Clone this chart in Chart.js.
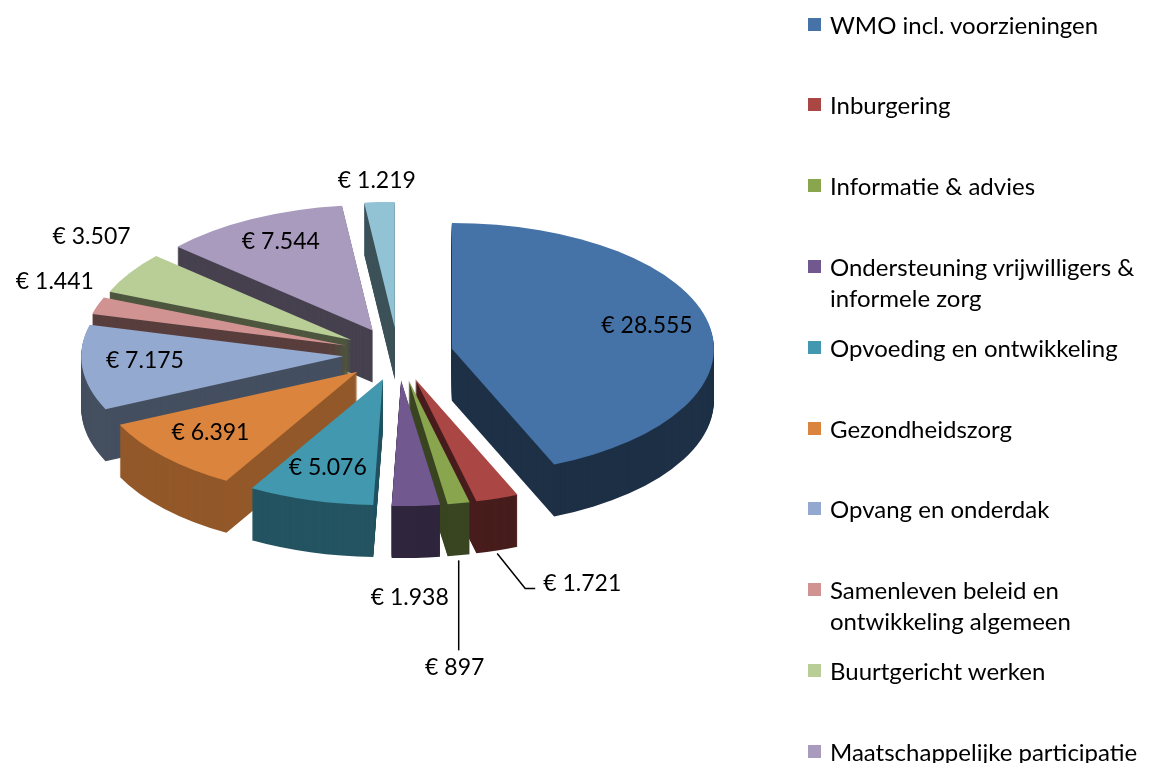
<!DOCTYPE html>
<html>
<head>
<meta charset="utf-8">
<script src="https://cdn.jsdelivr.net/npm/chart.js@4.4.0/dist/chart.umd.min.js"></script>
<style>
    html, body { margin: 0; padding: 0; background: #fff; overflow: hidden; }
    #wrap { position: relative; width: 1153px; height: 763px; overflow: hidden; }
    #chart { position: absolute; left: 0; top: 0; }
    #legend { position: absolute; left: 0; top: 0; width: 1153px; height: 763px; font-family: Lato, sans-serif; font-size: 24px; color: #000; }
    .item { position: absolute; left: 808px; width: 345px; line-height: 31px; }
    .box { position: absolute; left: 0; top: 9px; width: 13px; height: 13px; }
    .txt { margin-left: 22px; }
</style>
</head>
<body>
<div id="wrap">
    <canvas id="chart" width="1153" height="763"></canvas>
    <div id="legend"></div>
</div>
<script>
// Budget per onderdeel (x € 1.000)
const categories = [
    'WMO incl. voorzieningen',
    'Inburgering',
    'Informatie & advies',
    'Ondersteuning vrijwilligers & informele zorg',
    'Opvoeding en ontwikkeling',
    'Gezondheidszorg',
    'Opvang en onderdak',
    'Samenleven beleid en ontwikkeling algemeen',
    'Buurtgericht werken',
    'Maatschappelijke participatie',
    'Overig'
];
const amounts = [28555, 1721, 897, 1938, 5076, 6391, 7175, 1441, 3507, 7544, 1219];
const colors = ['#4572A7', '#AA4643', '#89A54E', '#71588F', '#4198AF', '#DB843D',
                '#93A9CF', '#D19392', '#B9CD96', '#A99BBD', '#92C3D4'];
// where each value label goes: on the slice, outside, or with a leader line
const labelPlacement = ['in', 'elbow', 'down', 'out', 'in', 'in', 'in', 'out', 'out', 'in', 'out'];

const RADIUS = 262;
const EXPLODE = 55;
const DEPTH = 52;
const TILT = 0.48;
const FONT = '23px Lato, sans-serif';

const euro = n => '€ ' + String(n).replace(/\B(?=(\d{3})+(?!\d))/g, '.');

function shade(hex, f) {
    const n = parseInt(hex.slice(1), 16);
    const r = Math.round(((n >> 16) & 255) * f);
    const g = Math.round(((n >> 8) & 255) * f);
    const b = Math.round((n & 255) * f);
    return `rgb(${r},${g},${b})`;
}

const midAngle = arc => (arc.startAngle + arc.endAngle) / 2;

// point on the tilted pie, r px out from the centre along the slice middle
function project(arc, r, lift) {
    const m = midAngle(arc);
    return { x: arc.x + Math.cos(m) * r, y: arc.y + Math.sin(m) * r * TILT + lift };
}

// fake 3D: squash the pie and stack darker copies under each slice
const pie3d = {
    id: 'pie3d',
    beforeDatasetsDraw(chart) {
        const ctx = chart.ctx;
        const arcs = chart.getDatasetMeta(0).data;
        const order = arcs.map((a, i) => i)
            .sort((a, b) => Math.sin(midAngle(arcs[a])) - Math.sin(midAngle(arcs[b])));

        for (const i of order) {
            const arc = arcs[i];
            const m = midAngle(arc);
            const ex = Math.cos(m) * EXPLODE;
            const ey = Math.sin(m) * EXPLODE;
            const base = arc.options;
            const lit = 0.42 + 0.5 * Math.max(0, -Math.cos(m)) * Math.max(0, Math.sin(m));

            const drawAt = d => {
                ctx.save();
                ctx.translate(arc.x, arc.y + d);
                ctx.scale(1, TILT);
                ctx.translate(-arc.x + ex, -arc.y + ey);
                arc.draw(ctx);
                ctx.restore();
            };

            arc.options = Object.assign({}, base, { backgroundColor: shade(colors[i], lit), borderWidth: 0 });
            for (let d = DEPTH; d >= 1; d--) drawAt(d);
            arc.options = base;
            drawAt(0);
        }
        return false;
    },
    afterDraw(chart) {
        const ctx = chart.ctx;
        const arcs = chart.getDatasetMeta(0).data;
        ctx.save();
        ctx.font = FONT;
        ctx.fillStyle = '#000';
        ctx.strokeStyle = '#000';
        ctx.lineWidth = 1.5;
        ctx.textBaseline = 'middle';

        arcs.forEach((arc, i) => {
            const text = euro(amounts[i]);
            const w = ctx.measureText(text).width;
            const h = 24;
            const m = midAngle(arc);
            const front = Math.sin(m) > 0;
            const mode = labelPlacement[i];

            if (mode === 'in') {
                const p = project(arc, EXPLODE + 0.76 * RADIUS, -4);
                ctx.textAlign = 'center';
                ctx.fillText(text, p.x, p.y);
            } else if (mode === 'out') {
                // the back of the real pie sits higher at the sides (perspective)
                const lift = front ? DEPTH : -30 * Math.abs(Math.sin(2 * m));
                const a = project(arc, EXPLODE + RADIUS, lift);
                const gap = front ? 28 : 6;
                const cx = a.x + Math.cos(m) * (gap + w / 2) - (front ? 10 : 0);
                const cy = a.y + Math.sin(m) * (gap + h / 2);
                ctx.textAlign = 'center';
                ctx.fillText(text, cx, cy);
            } else if (mode === 'down') {
                const a = project(arc, EXPLODE + RADIUS, DEPTH);
                ctx.beginPath();
                ctx.moveTo(a.x, a.y + 5);
                ctx.lineTo(a.x, a.y + 95);
                ctx.stroke();
                ctx.textAlign = 'center';
                ctx.fillText(text, a.x - 4, a.y + 112);
            } else if (mode === 'elbow') {
                const a = project(arc, EXPLODE + RADIUS, DEPTH);
                ctx.beginPath();
                ctx.moveTo(a.x, a.y + 3);
                ctx.lineTo(a.x + 28, a.y + 38);
                ctx.lineTo(a.x + 38, a.y + 38);
                ctx.stroke();
                ctx.textAlign = 'left';
                ctx.fillText(text, a.x + 46, a.y + 33);
            }
        });
        ctx.restore();
    }
};

const ctx = document.getElementById('chart').getContext('2d');
new Chart(ctx, {
    type: 'pie',
    data: {
        labels: categories,
        datasets: [{
            data: amounts,
            backgroundColor: colors,
            borderWidth: 0,
            offset: 0,
            hoverOffset: 0
        }]
    },
    options: {
        responsive: false,
        animation: false,
        radius: RADIUS,
        layout: { padding: { left: 0, top: 0, right: 357, bottom: 55 } },
        plugins: {
            legend: { display: false },
            tooltip: { enabled: false }
        }
    },
    plugins: [pie3d]
});

// legend on the right, one row every ~81 px
const legend = document.getElementById('legend');
categories.forEach((name, i) => {
    const item = document.createElement('div');
    item.className = 'item';
    item.style.top = (24 + i * 80.8 - 15.5) + 'px';
    const box = document.createElement('div');
    box.className = 'box';
    box.style.background = colors[i];
    const txt = document.createElement('div');
    txt.className = 'txt';
    txt.textContent = name;
    item.appendChild(box);
    item.appendChild(txt);
    legend.appendChild(item);
});
</script>
</body>
</html>
